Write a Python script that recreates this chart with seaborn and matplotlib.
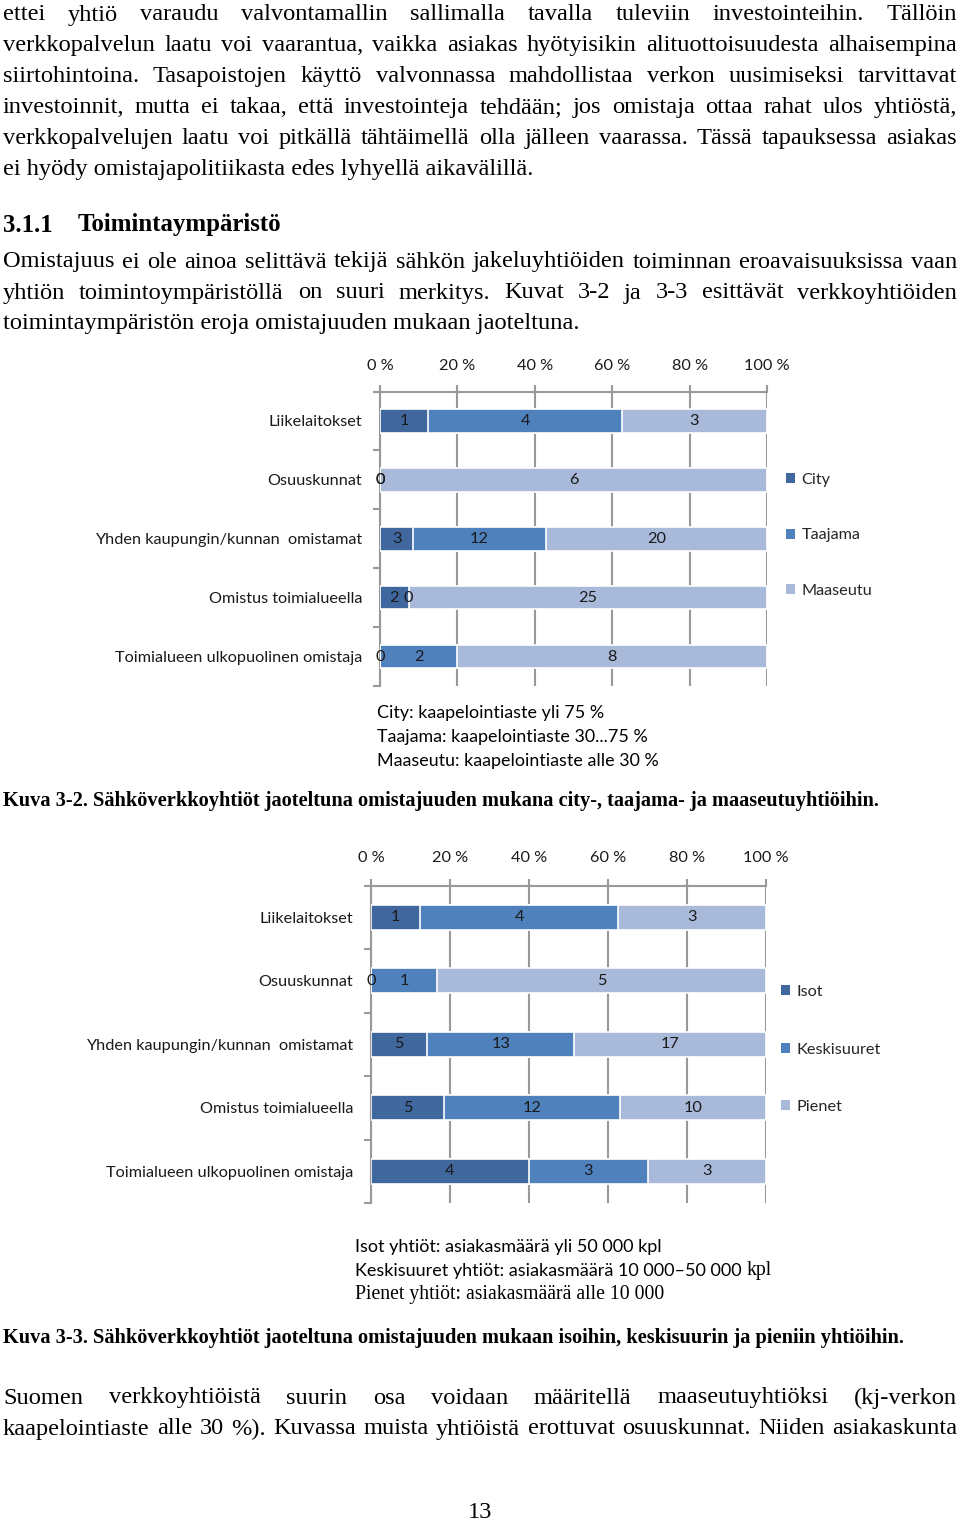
import matplotlib
matplotlib.use("Agg")
import matplotlib.pyplot as plt
from matplotlib.patches import Patch
import pandas as pd
import seaborn as sns

W, H = 960, 1522

# ---- data -----------------------------------------------------------------
owners = ["Liikelaitokset", "Osuuskunnat", "Yhden kaupungin/kunnan  omistamat",
          "Omistus toimialueella", "Toimialueen ulkopuolinen omistaja"]

# Kuva 3-2
area_series = ["City", "Taajama", "Maaseutu"]
city = [1, 0, 3, 2, 0]
taajama = [4, 0, 12, 0, 2]
maaseutu = [3, 6, 20, 25, 8]

# Kuva 3-3
size_series = ["Isot", "Keskisuuret", "Pienet"]
isot = [1, 0, 5, 5, 4]
keskisuuret = [4, 1, 13, 12, 3]
pienet = [3, 5, 17, 10, 3]

xticks = [0, 20, 40, 60, 80, 100]
xtick_labels = ["0 %", "20 %", "40 %", "60 %", "80 %", "100 %"]

colors = ["#40689f", "#4f81bd", "#a8b9da"]

SANS = "Lato"
SERIF = "Liberation Serif"
CH = 11.7   # chart text size

sns.set_theme(style="white")
plt.rcParams["font.family"] = [SANS, "DejaVu Sans"]

fig = plt.figure(figsize=(W / 100, H / 100), dpi=100)
renderer = fig.canvas.get_renderer()


def fx(x):
    return x / W


def fy(y):
    return 1 - (y + 2) / H


def put(s, x, y, size, family=SERIF, weight="normal", ha="left", **kw):
    return fig.text(fx(x), fy(y), s, fontsize=size, family=family,
                    weight=weight, ha=ha, va="center", color="black", **kw)


def justify(line, y, size, x0=3, x1=957, family=SERIF, weight="normal"):
    words = line.split()
    while True:
        texts = [put(w, 0, y, size, family, weight) for w in words]
        widths = [t.get_window_extent(renderer).width for t in texts]
        gap = (x1 - x0 - sum(widths)) / (len(words) - 1)
        if gap >= 4:
            break
        for t in texts:
            t.remove()
        size -= 0.2
    x = x0
    for t, w in zip(texts, widths):
        t.set_x(fx(x))
        x += w + gap


def stacked(ax, counts, names, legend_pos):
    df = pd.DataFrame({"owner": owners})
    total = [sum(v) for v in zip(*counts)]
    cum = [0] * len(owners)
    cums = []
    for vals in counts:
        cum = [c + v for c, v in zip(cum, vals)]
        cums.append([100 * c / t for c, t in zip(cum, total)])
    # draw from the outermost segment inwards so each bar is stacked
    for i in reversed(range(len(counts))):
        df["pct"] = cums[i]
        sns.barplot(data=df, x="pct", y="owner", orient="h", color=colors[i],
                    saturation=1, width=0.4, edgecolor="white", linewidth=1.2,
                    ax=ax, zorder=3)
    # data labels
    for i, vals in enumerate(counts):
        for j, v in enumerate(vals):
            start = 0 if i == 0 else cums[i - 1][j]
            mid = (start + cums[i][j]) / 2
            ax.text(mid, j, str(v), ha="center", va="center", fontsize=CH,
                    color="#1a1a1a", zorder=5)
    ax.set_xlim(0, 100)
    ax.set_ylim(4.5, -0.5)
    ax.set_xlabel("")
    ax.set_ylabel("")
    ax.xaxis.tick_top()
    ax.set_xticks(xticks)
    ax.set_xticklabels(xtick_labels, fontsize=CH, color="#1a1a1a")
    ax.set_yticks(range(len(owners)))
    ax.set_yticklabels(owners, fontsize=CH, color="#1a1a1a")
    ax.set_yticks([-0.5, 0.5, 1.5, 2.5, 3.5, 4.5], minor=True)
    ax.tick_params(axis="y", which="major", length=0, pad=13)
    ax.tick_params(axis="y", which="minor", length=5, width=1.5,
                   color="#999999", left=True)
    ax.tick_params(axis="x", length=5, width=1.5, color="#999999",
                   pad=legend_pos[3], top=True, bottom=False)
    ax.grid(axis="x", color="#999999", linewidth=1.5, zorder=0)
    ax.grid(axis="y", visible=False)
    ax.set_axisbelow(True)
    for side in ["right", "bottom"]:
        ax.spines[side].set_visible(False)
    for side in ["top", "left"]:
        ax.spines[side].set_color("#999999")
        ax.spines[side].set_linewidth(1.5)
    ax.set_facecolor("white")
    handles = [Patch(facecolor=c, edgecolor="none") for c in colors]
    ax.legend(handles, names, loc="upper left",
              bbox_to_anchor=(fx(legend_pos[0]), fy(legend_pos[1])),
              bbox_transform=fig.transFigure, frameon=False, fontsize=CH,
              handlelength=0.55, handleheight=0.55, handletextpad=0.4,
              labelspacing=legend_pos[2], borderpad=0, borderaxespad=0)


# ---- body text --------------------------------------------------------------
BODY = 17.6
top_lines = [
    "ettei yhtiö varaudu valvontamallin sallimalla tavalla tuleviin investointeihin. Tällöin",
    "verkkopalvelun laatu voi vaarantua, vaikka asiakas hyötyisikin alituottoisuudesta alhaisempina",
    "siirtohintoina. Tasapoistojen käyttö valvonnassa mahdollistaa verkon uusimiseksi tarvittavat",
    "investoinnit, mutta ei takaa, että investointeja tehdään; jos omistaja ottaa rahat ulos yhtiöstä,",
    "verkkopalvelujen laatu voi pitkällä tähtäimellä olla jälleen vaarassa. Tässä tapauksessa asiakas",
]
for k, line in enumerate(top_lines):
    justify(line, 13 + 30.8 * k, BODY)
put("ei hyödy omistajapolitiikasta edes lyhyellä aikavälillä.", 3, 167, BODY)

put("3.1.1", 3, 223, 17.9, weight="bold")
put("Toimintaympäristö", 78, 223, 17.9, weight="bold")

justify("Omistajuus ei ole ainoa selittävä tekijä sähkön jakeluyhtiöiden toiminnan eroavaisuuksissa vaan",
        260, BODY)
justify("yhtiön toimintoympäristöllä on suuri merkitys. Kuvat 3-2 ja 3-3 esittävät verkkoyhtiöiden",
        291, BODY)
put("toimintaympäristön eroja omistajuuden mukaan jaoteltuna.", 3, 321, BODY)

# ---- chart 1 ----------------------------------------------------------------
ax1 = fig.add_axes([fx(380), 1 - 686 / H, (767 - 380) / W, (686 - 391.5) / H])
stacked(ax1, [city, taajama, maaseutu], area_series, (786, 471, 2.55, 8))

put("City: kaapelointiaste yli 75 %", 377, 711, 12.9, family=SANS)
put("Taajama: kaapelointiaste 30...75 %", 377, 735, 12.9, family=SANS)
put("Maaseutu: kaapelointiaste alle 30 %", 377, 759, 12.9, family=SANS)

put("Kuva 3-2. Sähköverkkoyhtiöt jaoteltuna omistajuuden mukana city-, taajama- ja maaseutuyhtiöihin.",
    3, 799, 14.7, weight="bold")

# ---- chart 2 ----------------------------------------------------------------
ax2 = fig.add_axes([fx(371), 1 - 1203 / H, (766 - 371) / W, (1203 - 885.5) / H])
stacked(ax2, [isot, keskisuuret, pienet], size_series, (781, 983, 2.68, 9.5))

put("Isot yhtiöt: asiakasmäärä yli 50 000 kpl", 355, 1245, 13, family=SANS)
t = put("Keskisuuret yhtiöt: asiakasmäärä 10 000–50 000", 355, 1269, 13, family=SANS)
x_end = t.get_window_extent(renderer).x1
put("kpl", x_end + 5, 1269, 14.2)
put("Pienet yhtiöt: asiakasmäärä alle 10 000", 355, 1293, 14.2)

put("Kuva 3-3. Sähköverkkoyhtiöt jaoteltuna omistajuuden mukaan isoihin, keskisuurin ja pieniin yhtiöihin.",
    3, 1336, 14.7, weight="bold")

justify("Suomen verkkoyhtiöistä suurin osa voidaan määritellä maaseutuyhtiöksi (kj-verkon",
        1396, BODY)
justify("kaapelointiaste alle 30 %). Kuvassa muista yhtiöistä erottuvat osuuskunnat. Niiden asiakaskunta",
        1427, BODY)

put("13", 480, 1510, BODY, ha="center")

fig.savefig("out.png", dpi=100)
